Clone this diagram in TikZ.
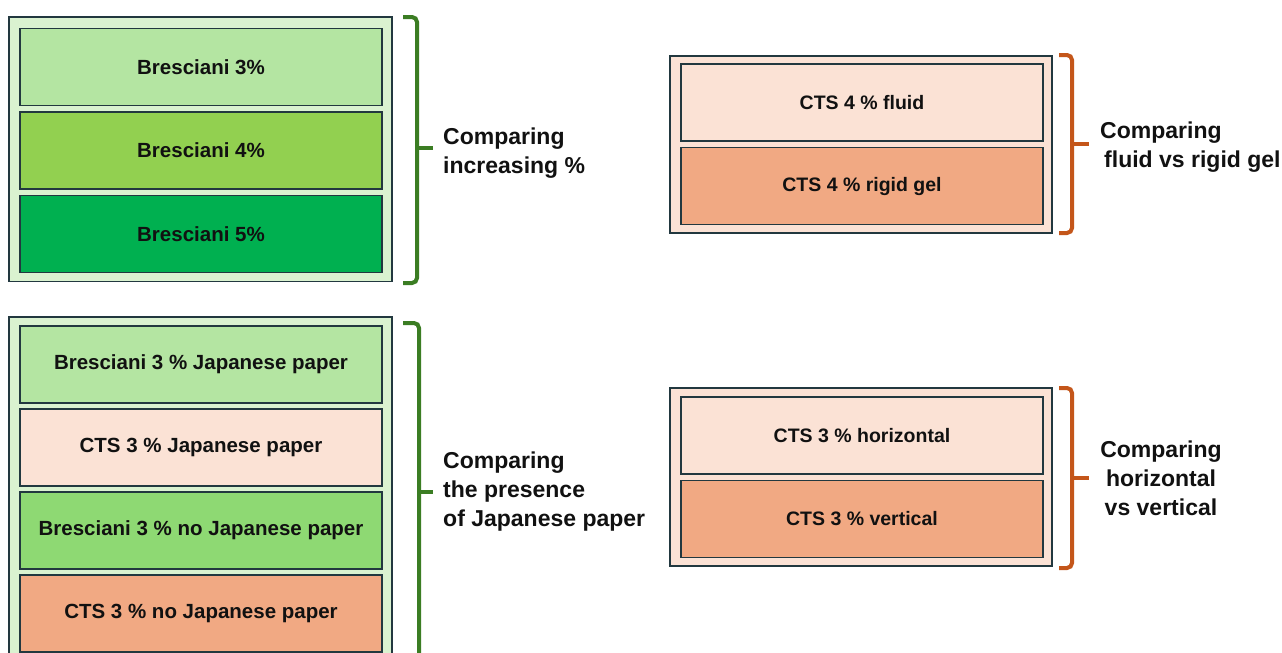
\documentclass[tikz,border=0pt]{standalone}
\usepackage{fontspec}
\setmainfont{Liberation Sans}
\definecolor{edge}{HTML}{22383F}
\definecolor{txt}{HTML}{111111}
\definecolor{gpale}{HTML}{DAF2D0}
\definecolor{glight}{HTML}{B4E5A2}
\definecolor{gmid}{HTML}{92D050}
\definecolor{gdark}{HTML}{00B050}
\definecolor{gsoft}{HTML}{8ED973}
\definecolor{opale}{HTML}{FBE2D5}
\definecolor{omid}{HTML}{F1A983}
\definecolor{gbr}{HTML}{3B7D23}
\definecolor{obr}{HTML}{C4561A}
\tikzset{
  frame/.style={draw=edge, line width=1.8pt, inner sep=0pt},
  cell/.style={draw=edge, line width=1.8pt, inner sep=0pt, minimum width=362pt, minimum height=77pt,
    text=txt, font=\bfseries\fontsize{20.5}{24}\selectfont},
  rcell/.style={cell, font=\bfseries\fontsize{19.5}{23}\selectfont},
  gbrace/.style={draw=gbr, line width=4pt, rounded corners=5pt},
  obrace/.style={draw=obr, line width=4pt, rounded corners=5pt},
  lab/.style={inner sep=0pt, text=txt, font=\bfseries\fontsize{23}{29}\selectfont}
}
\begin{document}
\begin{tikzpicture}[x=1pt,y=-1pt]
\useasboundingbox (0,0) rectangle (1282,653);
\clip (0,0) rectangle (1282,653);
\fill[white] (0,0) rectangle (1282,653);

% ---- top-left group ----
\node[frame, fill=gpale, minimum width=383pt, minimum height=264.5pt] (g1) at (200.5,149.25) {};
\node[cell, fill=glight] (b3) at (201,67) {Bresciani 3\%};
\node[cell, fill=gmid] (b4) at (201,150.5) {Bresciani 4\%};
\node[cell, fill=gdark] (b5) at (201,234) {Bresciani 5\%};
\draw[gbrace] (403,17) -- (417,17) -- (417,283) -- (403,283);
\draw[gbrace, rounded corners=0pt] (417,148) -- (433,148);
\node[lab, anchor=north west, align=left] (l1) at (443,127.5) {Comparing\\increasing \%};

% ---- bottom-left group ----
\node[frame, fill=gpale, minimum width=383pt, minimum height=344pt] (g2) at (200.5,489) {};
\node[cell, fill=glight] (c1) at (201,364.3) {Bresciani 3 \% Japanese paper};
\node[cell, fill=opale] (c2) at (201,447.3) {CTS 3 \% Japanese paper};
\node[cell, fill=gsoft] (c3) at (201,530.6) {Bresciani 3 \% no Japanese paper};
\node[cell, fill=omid] (c4) at (201,613.7) {CTS 3 \% no Japanese paper};
\draw[gbrace] (403,323) -- (419,323) -- (419,661) -- (403,661);
\draw[gbrace, rounded corners=0pt] (419,492) -- (433,492);
\node[lab, anchor=north west, align=left] (l2) at (443,451.5) {Comparing\\the presence\\of Japanese paper};

% ---- top-right group ----
\node[frame, fill=opale, minimum width=382pt, minimum height=177pt] (g3) at (861,144.5) {};
\node[rcell, fill=opale] (d1) at (862,102.5) {CTS 4 \% fluid};
\node[rcell, fill=omid] (d2) at (862,186) {CTS 4 \% rigid gel};
\draw[obrace] (1059,55) -- (1072,55) -- (1072,233) -- (1059,233);
\draw[obrace, rounded corners=0pt] (1072,144) -- (1089,144);
\node[lab, anchor=north west, align=left] (l3) at (1100,121.5) {Comparing\\\hspace*{4pt}fluid vs rigid gel};

% ---- bottom-right group ----
\node[frame, fill=opale, minimum width=382pt, minimum height=178pt] (g4) at (861,477) {};
\node[rcell, fill=opale] (e1) at (862,435.5) {CTS 3 \% horizontal};
\node[rcell, fill=omid] (e2) at (862,519) {CTS 3 \% vertical};
\draw[obrace] (1059,388) -- (1072,388) -- (1072,568) -- (1059,568);
\draw[obrace, rounded corners=0pt] (1072,478) -- (1089,478);
\node[lab, anchor=north, align=center] (l4) at (1161,440.5) {Comparing\\horizontal\\vs vertical};
\end{tikzpicture}
\end{document}
